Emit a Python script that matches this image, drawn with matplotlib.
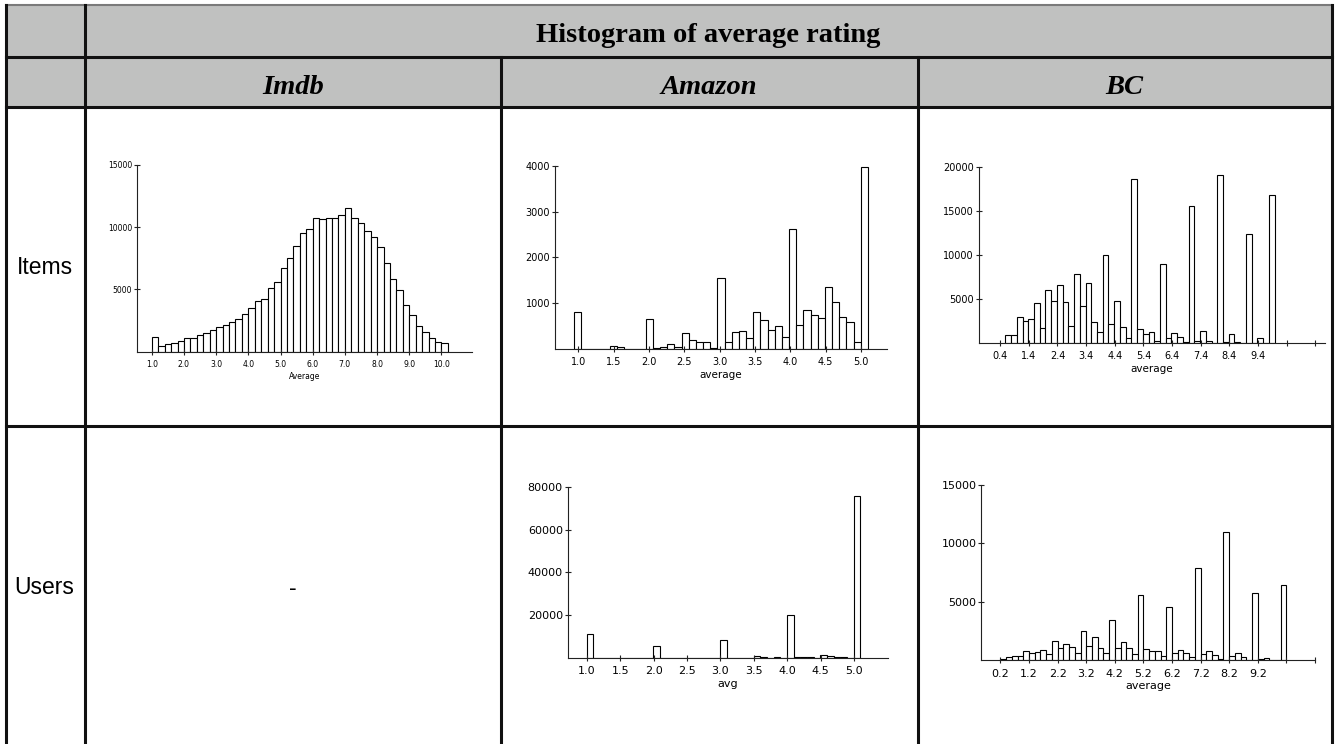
import numpy as np
import matplotlib.pyplot as plt
from matplotlib.lines import Line2D
from matplotlib.patches import Rectangle

# figure size in pixels
W, H = 1337, 744

# table text
title = 'Histogram of average rating'
columns = ['Imdb', 'Amazon', 'BC']
rows = ['Items', 'Users']

# Imdb items: counts per 0.2 bin from 1.0 to 10.2
imdb_item_range = (1.0, 10.2)
imdb_item_counts = [1150, 480, 620, 670, 880, 1070, 1125, 1310, 1470, 1710,
                    1950, 2120, 2360, 2600, 3000, 3480, 4050, 4200, 5090, 5570,
                    6700, 7500, 8460, 9510, 9830, 10720, 10630, 10720, 10720, 10960,
                    11520, 10720, 10310, 9670, 9190, 8380, 7150, 5810, 4930, 3720,
                    2920, 2040, 1550, 1070, 750, 670]

# Amazon items: bins centred on 1.0, 1.1, ... 5.0
amazon_item_range = (0.94, 5.10)
amazon_item_counts = [800, 0, 0, 0, 0, 70, 40, 0, 0, 0,
                      660, 20, 40, 110, 40, 340, 200, 160, 160, 20,
                      1540, 160, 380, 400, 250, 800, 640, 420, 510, 270,
                      2610, 530, 860, 750, 670, 1360, 1030, 690, 580, 160,
                      3970]

# BC items
bc_item_range = (0.58, 9.98)
bc_item_counts = [833, 833, 2880, 2420, 2650, 4470, 1630, 5950, 4700, 6520,
                  4580, 1890, 7770, 4170, 6740, 2310, 1170, 9920, 2120, 4700,
                  1740, 490, 18560, 1520, 950, 1250, 190, 8900, 570, 1060,
                  610, 80, 15490, 150, 1290, 150, 0, 19010, 80, 950,
                  40, 0, 12310, 0, 490, 0, 16740]

# Amazon users
amazon_user_range = (1.0, 5.09)
amazon_user_counts = [11090, 0, 0, 0, 0, 0, 0, 0, 0, 0,
                      5630, 0, 0, 0, 0, 0, 0, 0, 0, 0,
                      8440, 0, 0, 0, 0, 940, 470, 100, 300, 100,
                      20000, 250, 250, 250, 100, 1250, 780, 300, 300, 100,
                      75840]

# BC users
bc_user_range = (0.2, 10.2)
bc_user_counts = [115, 260, 345, 345, 770, 600, 685, 885, 515, 1630,
                  1030, 1370, 1170, 600, 2490, 1200, 1970, 1030, 600, 3430,
                  1030, 1540, 1030, 515, 5570, 940, 770, 770, 345, 4540,
                  600, 860, 600, 260, 7860, 515, 830, 430, 115, 10940,
                  345, 600, 260, 0, 5740, 115, 170, 0, 0, 6430]

# tick labels
imdb_xticks = [1.0, 2.0, 3.0, 4.0, 5.0, 6.0, 7.0, 8.0, 9.0, 10.0]
amazon_xticks = [1.0, 1.5, 2.0, 2.5, 3.0, 3.5, 4.0, 4.5, 5.0]
bc_item_xticks = [0.4, 1.4, 2.4, 3.4, 4.4, 5.4, 6.4, 7.4, 8.4, 9.4, 10.4, 11.4]
bc_user_xticks = [0.2, 1.2, 2.2, 3.2, 4.2, 5.2, 6.2, 7.2, 8.2, 9.2, 10.2, 11.2]

fig = plt.figure(figsize=(W / 100, H / 100), dpi=100)

# table drawn in pixel coordinates on a background axes
bg = fig.add_axes([0, 0, 1, 1])
bg.set_xlim(0, W)
bg.set_ylim(H, 0)
bg.axis('off')

x_left, x_c1, x_c2, x_c3, x_right = 6, 85, 500.5, 917.5, 1332
y_top, y_h1, y_h2, y_r1 = 5, 56.5, 106.5, 426

bg.add_patch(Rectangle((x_left, y_top), x_right - x_left, y_h2 - y_top,
                       facecolor='#c0c1c0', edgecolor='none'))
bg.add_line(Line2D([x_left, x_right], [y_top, y_top], color='#7a7a7a', lw=1.5))
for y in [y_h1, y_h2, y_r1]:
    bg.add_line(Line2D([x_left, x_right], [y, y], color='#111111', lw=2.2))
for x in [x_left, x_c1, x_right]:
    bg.add_line(Line2D([x, x], [y_top, H], color='#111111', lw=2.2))
for x in [x_c2, x_c3]:
    bg.add_line(Line2D([x, x], [y_h1, H], color='#111111', lw=2.2))

bg.text((x_c1 + x_right) / 2, 42, title, ha='center', va='baseline',
        family='Liberation Serif', fontweight='bold', fontsize=20.5)
col_edges = [x_c1, x_c2, x_c3, x_right]
for i, name in enumerate(columns):
    bg.text((col_edges[i] + col_edges[i + 1]) / 2, 94, name, ha='center',
            va='baseline', family='Liberation Serif', fontweight='bold',
            fontstyle='italic', fontsize=20.5)
bg.text(45, 268, rows[0], ha='center', va='center', family='Liberation Sans', fontsize=16.5)
bg.text(44, 588, rows[1], ha='center', va='center', family='Liberation Sans', fontsize=16.5)
bg.text(293, 588, '-', ha='center', va='center', family='Liberation Sans', fontsize=16.5)


def hist_axes(box, xlim, ylim, counts, rng, xticks, yticks, xlabel, fs, lfs):
    left, right, y0, ytop = box
    ax = fig.add_axes([left / W, 1 - y0 / H, (right - left) / W, (y0 - ytop) / H])
    edges = np.linspace(rng[0], rng[1], len(counts) + 1)
    ax.bar(edges[:-1], counts, width=np.diff(edges), align='edge',
           color='white', edgecolor='black', linewidth=0.8)
    ax.set_xlim(*xlim)
    ax.set_ylim(*ylim)
    for s in ['top', 'right']:
        ax.spines[s].set_visible(False)
    for s in ['left', 'bottom']:
        ax.spines[s].set_linewidth(0.8)
        ax.spines[s].set_color('#222222')
    ax.set_xticks(xticks)
    ax.set_xticklabels(['%.1f' % t for t in xticks])
    ax.set_yticks(yticks)
    ax.set_yticklabels([str(t) for t in yticks])
    ax.tick_params(direction='inout', length=5, width=0.8, labelsize=fs, color='#222222')
    ax.tick_params(axis='y', pad=1)
    ax.set_xlabel(xlabel, fontsize=lfs, labelpad=2)
    ax.patch.set_alpha(0)
    return ax


ax1 = hist_axes((137, 472, 351.7, 165), (0.54, 10.95), (0, 15000),
                imdb_item_counts, imdb_item_range, imdb_xticks,
                [5000, 10000, 15000], 'Average', 5.5, 5.5)
ax2 = hist_axes((555, 887, 349, 165.7), (0.67, 5.37), (0, 4000),
                amazon_item_counts, amazon_item_range, amazon_xticks,
                [1000, 2000, 3000, 4000], 'average', 7, 7.5)
ax3 = hist_axes((978.7, 1325, 342.7, 166.7), (-0.35, 11.74), (0, 20000),
                bc_item_counts, bc_item_range, bc_item_xticks,
                [5000, 10000, 15000, 20000], 'average', 7, 7.5)
# the last two ticks carry no label
ax3.set_xticklabels(['%.1f' % t for t in bc_item_xticks[:10]] + ['', ''])
ax4 = hist_axes((567.7, 887.7, 658, 486.8), (0.716, 5.5), (0, 80000),
                amazon_user_counts, amazon_user_range, amazon_xticks,
                [20000, 40000, 60000, 80000], 'avg', 8, 8)
ax5 = hist_axes((981.3, 1315, 660.3, 485), (-0.47, 11.2), (0, 15000),
                bc_user_counts, bc_user_range, bc_user_xticks,
                [5000, 10000, 15000], 'average', 8, 8)
ax5.set_xticklabels(['%.1f' % t for t in bc_user_xticks[:10]] + ['', ''])

fig.savefig('out.png', dpi=100)
